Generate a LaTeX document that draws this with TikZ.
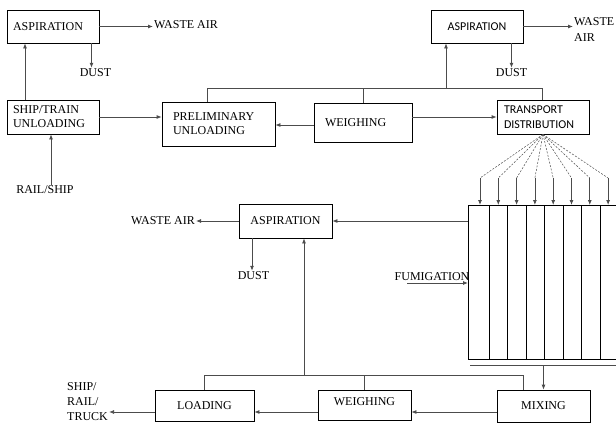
\documentclass[tikz,border=0pt]{standalone}
\usepackage{fontspec}
\setmainfont{Liberation Serif}
\newfontfamily\sansfont{Carlito}
\usetikzlibrary{arrows.meta, positioning}
\tikzset{
    box/.style={draw=black, line width=0.8pt, fill=white, align=left, inner xsep=6pt, font=\fontsize{12}{14}\selectfont},
    lbl/.style={inner sep=1pt, align=left, font=\fontsize{12}{14}\selectfont},
    arrow/.style={-{Latex[length=5pt,width=4pt]}, line width=0.8pt, black!70},
    link/.style={line width=0.8pt, black!70},
    feed/.style={dash pattern=on 2pt off 1.5pt, line width=0.5pt, black!70}
}

\begin{document}
\begin{tikzpicture}[x=1pt, y=-1pt]
        \useasboundingbox (0,0) rectangle (616,423);
        % upper row
        \node [box, text width=80pt, minimum height=33pt] (aspA) at (53,26.5) {ASPIRATION};
        \node [box, text width=80pt, minimum height=34pt] (ship) at (53,117) {SHIP/TRAIN\\UNLOADING};
        \node [box, inner xsep=11pt, text width=91pt, minimum height=44pt] (prelim) at (218.5,124) {PRELIMINARY\\UNLOADING};
        \node [box, inner xsep=11pt, text width=76pt, minimum height=39pt] (weighA) at (363,122.5) {WEIGHING};
        \node [box, inner xsep=7pt, text width=78pt, minimum height=34pt, font=\sansfont\fontsize{12}{15}\selectfont] (trans) at (543,117) {TRANSPORT\\DISTRIBUTION};
        \node [box, align=center, text width=80pt, minimum height=33pt, font=\sansfont\fontsize{12}{14}\selectfont] (aspB) at (477,26.5) {ASPIRATION};
        \node [lbl, anchor=west] (wasteA) at (153,25) {WASTE AIR};
        \node [lbl] (dustA) at (95.5,73) {DUST};
        \node [lbl] (railship) at (45,190) {RAIL/SHIP};
        \node [lbl, anchor=west, font=\fontsize{12}{16}\selectfont] (wasteB) at (573,30) {WASTE\\AIR};
        \node [lbl] (dustB) at (511.5,73) {DUST};
        % silo cells
        \node [draw, line width=0.8pt, inner sep=0pt, minimum width=150pt, minimum height=154pt, anchor=north west] (bins) at (468,205) {};
        \foreach \x in {489,507.5,526,544.5,563,581.5,600}
            \draw [line width=0.8pt] (\x,0 |- bins.north) -- (\x,0 |- bins.south);
        \coordinate (binsB) at (470,365);
        \draw [link] (binsB) -- (616,365);
        \node [lbl] (fum) at (432,277) {FUMIGATION};
        \coordinate (fumS) at (407,283);
        % middle
        \node [box, align=center, text width=81pt, minimum height=34pt] (aspC) at (285.5,221) {ASPIRATION};
        \node [lbl, anchor=east] (wasteC) at (196,221) {WASTE AIR};
        \node [lbl] (dustC) at (253.5,276) {DUST};
        % lower row
        \node [box, align=center, text width=87pt, minimum height=31pt] (loading) at (204.5,405.5) {LOADING};
        \node [box, align=center, text width=81pt, minimum height=30pt, text depth=6pt] (weighB) at (364.5,405) {WEIGHING};
        \node [box, align=center, text width=81pt, minimum height=32pt] (mixing) at (543.5,406) {MIXING};
        \node [lbl, anchor=west, font=\fontsize{12}{15}\selectfont] (dest) at (66,402) {SHIP/\\RAIL/\\TRUCK};

        \draw [arrow] (aspA.east) -- (aspA.east -| wasteA.west);
        \draw [arrow] ([xshift=-4pt]dustA.north |- aspA.south) -- ([xshift=-4pt]dustA.north);
        \draw [arrow] ([xshift=-28pt]ship.north) -- ([xshift=-28pt]aspA.south);
        \draw [arrow] ([xshift=6pt]railship.north) -- ([xshift=6pt]railship.north |- ship.south);
        \draw [arrow] (ship.east) -- (ship.east -| prelim.west);
        \draw [arrow] (weighA.west |- 0,125) -- (prelim.east |- 0,125);
        \draw [arrow] (trans.west -| weighA.east) -- (trans.west);
        \coordinate (busL) at (207,88);
        \coordinate (busR) at (542,88);
        \coordinate (busA) at (446,88);
        \draw [link] (busL |- prelim.north) -- (busL) -- (busR) -- (busR |- trans.north);
        \draw [link] (weighA.north) -- (weighA.north |- busL);
        \draw [arrow] (busA) -- (busA |- aspB.south);
        \draw [arrow] (aspB.east) -- (aspB.east -| wasteB.west);
        \draw [arrow] (dustB.north |- aspB.south) -- (dustB.north);
        \foreach \i in {0,...,7} {
            \draw [feed] (trans.south) -- ({480+18.3*\i},178);
            \draw [arrow] ({480+18.3*\i},178) -- ({480+18.3*\i},178 |- bins.north);
        }
        \draw [arrow] (bins.west |- aspC.east) -- (aspC.east);
        \draw [arrow] (aspC.west) -- (wasteC.east);
        \draw [arrow] ([xshift=-1.5pt]dustC.north |- aspC.south) -- ([xshift=-1.5pt]dustC.north);
        \draw [arrow] (fumS) -- (bins.west |- fumS);
        \draw [arrow] (mixing.north |- binsB) -- (mixing.north);
        \coordinate (busB) at (304,375);
        \coordinate (busBR) at (523,375);
        \draw [link] (loading.north) -- (loading.north |- busB) -- (busBR) -- (busBR |- mixing.north);
        \draw [link] (weighB.north) -- (weighB.north |- busB);
        \draw [arrow] (busB) -- (busB |- aspC.south);
        \draw [arrow] (mixing.west |- 0,412) -- (weighB.east |- 0,412);
        \draw [arrow] (weighB.west |- 0,412) -- (loading.east |- 0,412);
        \draw [arrow] (loading.west |- 0,412) -- (dest.east |- 0,412);
    \end{tikzpicture}
\end{document}
